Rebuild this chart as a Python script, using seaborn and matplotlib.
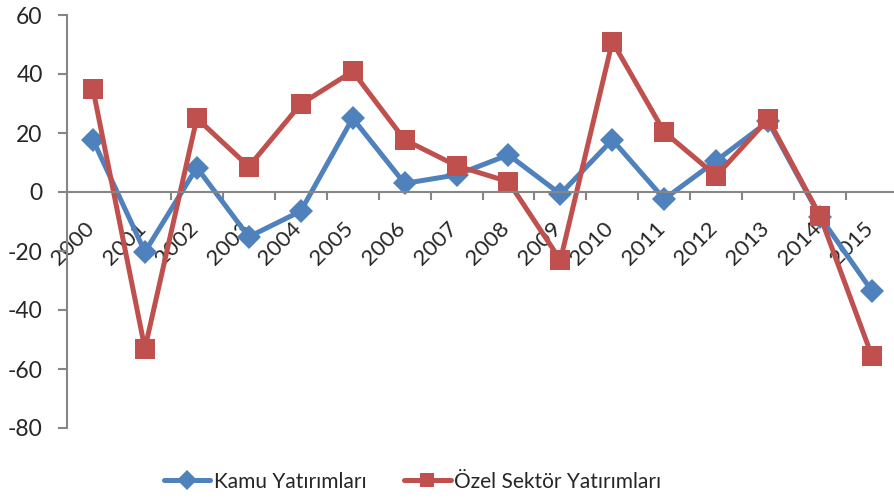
import matplotlib
matplotlib.use("Agg")
import matplotlib.pyplot as plt
import matplotlib.transforms as mtransforms
import seaborn as sns
import pandas as pd
import numpy as np

# ── data ────────────────────────────────────────────────────
years = [str(y) for y in range(2000, 2016)]
kamu = [17.7, -20.3, 8.3, -15.2, -6.5, 25.0, 2.9, 5.8,
        12.6, -0.7, 17.7, -2.4, 10.6, 23.9, -8.4, -33.6]
ozel = [34.9, -53.1, 25.0, 8.6, 29.8, 40.9, 17.7, 8.9,
        3.5, -23.1, 51.0, 20.3, 5.5, 24.7, -8.1, -55.7]
series_names = ["Kamu Yatırımları", "Özel Sektör Yatırımları"]
colors = ["#4F81BD", "#C0504D"]
y_ticks = [-80, -60, -40, -20, 0, 20, 40, 60]

df = pd.DataFrame({
    "year": years * 2,
    "pos": list(range(len(years))) * 2,
    "value": kamu + ozel,
    "series": [series_names[0]] * len(years) + [series_names[1]] * len(years),
})

sns.set_style("white")
plt.rcParams["font.family"] = ["Lato", "DejaVu Sans"]
plt.rcParams["axes.unicode_minus"] = False
FS = 16.5
MS = [12, 14.5]

fig = plt.figure(figsize=(8.94, 4.98), dpi=100)
ax = fig.add_axes([67 / 894, 70 / 498, (898 - 67) / 894, (428 - 15) / 498])

sns.lineplot(data=df, x="pos", y="value", hue="series", style="series",
             markers=["D", "s"], dashes=False, palette=colors,
             linewidth=3.6, markeredgewidth=0, ax=ax, legend=True)
for line, ms in zip(ax.lines, MS):
    line.set_markersize(ms)

# ── axes styling (Excel-like) ───────────────────────────────
grey = "#868686"
ax.set_xlim(-0.5, 15.5)
ax.set_ylim(-80, 60)
ax.set_yticks(y_ticks)
ax.set_xticks(range(len(years)))
ax.set_xticks(np.arange(-0.5, len(years), 1.0), minor=True)
for side in ["top", "right"]:
    ax.spines[side].set_visible(False)
ax.spines["bottom"].set_position(("data", 0))
for side in ["left", "bottom"]:
    ax.spines[side].set_color(grey)
    ax.spines[side].set_linewidth(1.5)
ax.tick_params(axis="y", direction="out", length=6.5, width=1.5, color=grey,
               labelsize=FS, pad=11, left=True)
ax.tick_params(axis="x", which="major", length=0, labelsize=16, pad=19)
ax.tick_params(axis="x", which="minor", direction="out", length=5.5, width=1.5,
               color=grey, bottom=True)
ax.set_xticklabels(years)
shift = mtransforms.ScaledTranslation(5 / 100, 0, fig.dpi_scale_trans)
for lbl in ax.get_xticklabels():
    lbl.set_rotation(45)
    lbl.set_ha("right")
    lbl.set_transform(lbl.get_transform() + shift)
ax.set_xlabel("")
ax.set_ylabel("")

# ── legend at the bottom ────────────────────────────────────
handles, labels = ax.get_legend_handles_labels()
ax.legend_.remove()
for h in handles:
    h.set_linewidth(3.6)
    h.set_markersize(10)
    h.set_markeredgewidth(0)
fig.legend(handles, labels, loc="center", bbox_to_anchor=(0.461, 0.033),
           ncol=2, frameon=False, fontsize=15, handlelength=2.25,
           handletextpad=0.15, columnspacing=1.8)

fig.savefig("out.png", dpi=100)
